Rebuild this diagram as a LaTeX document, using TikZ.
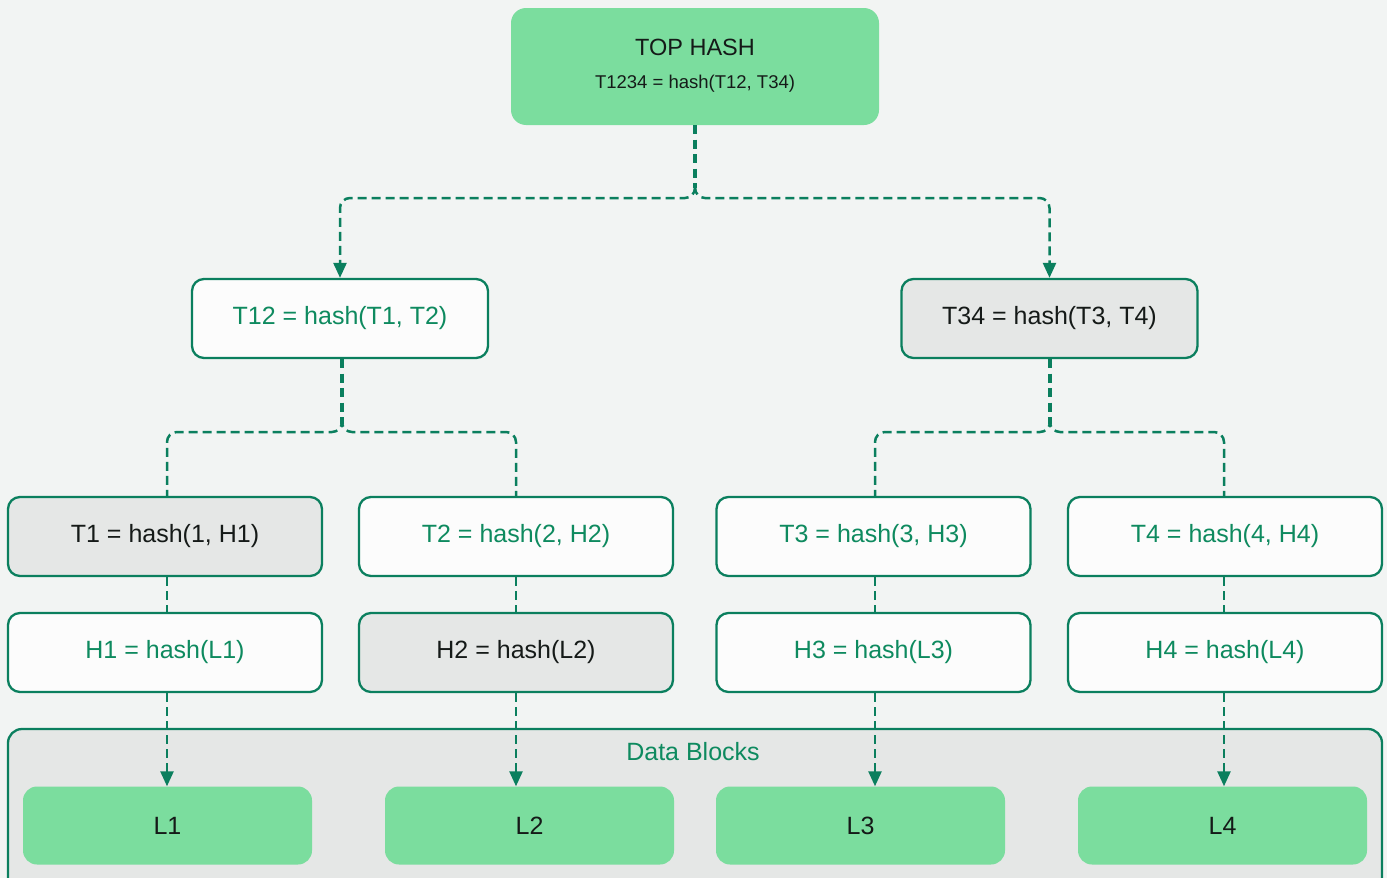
\documentclass[tikz,border=0pt]{standalone}
\usepackage{fontspec}
\setmainfont{Liberation Sans}
\usetikzlibrary{arrows.meta}
\definecolor{bg}{HTML}{F2F4F3}
\definecolor{edge}{HTML}{0B7F5E}
\definecolor{ink}{HTML}{0E8A5F}
\definecolor{leafgreen}{HTML}{7BDD9E}
\definecolor{paper}{HTML}{FCFCFC}
\definecolor{greybox}{HTML}{E5E7E6}
\definecolor{dark}{HTML}{151A18}
\newcommand{\labelfont}{\fontsize{25}{30}\selectfont}
\begin{document}
\begin{tikzpicture}[x=1pt,y=-1pt,
  hashbox/.style={draw=edge, line width=2.3pt, rounded corners=12pt,
    minimum height=79pt, inner sep=0pt, font=\labelfont},
  midbox/.style={hashbox, minimum width=296pt},
  lowbox/.style={hashbox, minimum width=314pt},
  plain/.style={fill=paper, text=ink},
  shaded/.style={fill=greybox, text=dark},
  leaf/.style={fill=leafgreen, rounded corners=14pt, minimum width=289pt,
    minimum height=78pt, inner sep=0pt, text=dark, font=\labelfont},
  stem/.style={draw=edge, line width=4.2pt, dash pattern=on 9pt off 5.5pt},
  branch/.style={draw=edge, line width=2.5pt, dash pattern=on 9pt off 5pt,
    rounded corners=10pt},
  tip/.style={-{Triangle[width=13pt,length=15pt]}}
]
\useasboundingbox (0,0) rectangle (1387,878);
\fill[bg] (0,0) rectangle (1387,878);

% data block container (runs off the lower edge)
\begin{scope}
\clip (0,0) rectangle (1387,878);
\draw[edge, fill=greybox, line width=2.3pt, rounded corners=14pt]
  (8,729) rectangle (1382,900);
\end{scope}
\node[text=ink, font=\labelfont] (dblabel) at (693,752) {Data Blocks};

% root
\node[fill=leafgreen, rounded corners=15pt, minimum width=368pt,
  minimum height=117pt, inner sep=0pt] (top) at (695,66.5) {};
\node[text=dark, font=\fontsize{23.5}{28}\selectfont] (toptitle) at (695,47) {TOP HASH};
\node[text=dark, font=\fontsize{18.5}{22}\selectfont] (topformula) at (695,84) {T1234 = hash(T12, T34)};

% second level
\node[midbox, plain]  (t12) at (340,318.5)  {T12 = hash(T1, T2)};
\node[midbox, shaded] (t34) at (1049.5,318.5) {T34 = hash(T3, T4)};

% third level
\node[lowbox, shaded] (t1) at (165,536.5)   {T1 = hash(1, H1)};
\node[lowbox, plain]  (t2) at (516,536.5)   {T2 = hash(2, H2)};
\node[lowbox, plain]  (t3) at (873.5,536.5) {T3 = hash(3, H3)};
\node[lowbox, plain]  (t4) at (1225,536.5)  {T4 = hash(4, H4)};

% leaf hashes
\node[lowbox, plain]  (h1) at (165,652.5)   {H1 = hash(L1)};
\node[lowbox, shaded] (h2) at (516,652.5)   {H2 = hash(L2)};
\node[lowbox, plain]  (h3) at (873.5,652.5) {H3 = hash(L3)};
\node[lowbox, plain]  (h4) at (1225,652.5)  {H4 = hash(L4)};

% data blocks
\node[leaf] (l1) at (167.5,825.5)  {L1};
\node[leaf] (l2) at (529.5,825.5)  {L2};
\node[leaf] (l3) at (860.5,825.5)  {L3};
\node[leaf] (l4) at (1222.5,825.5) {L4};

% column guides for the vertical connectors
\coordinate (col1) at (167,0);
\coordinate (col2) at (516,0);
\coordinate (col3) at (875,0);
\coordinate (col4) at (1224,0);

% root fork
\coordinate (forkA) at (695,188);
\draw[stem] (top.south) -- (forkA);
\draw[branch, tip] ([yshift=-2pt]forkA) -- (695,198) -- (340,198) -- (t12.north);
\draw[branch, tip] ([yshift=-2pt]forkA) -- (695,198) -- (1049.5,198) -- (t34.north);

% T12 fork
\coordinate (forkB) at (342,424);
\draw[stem] (t12.south -| forkB) -- (forkB);
\draw[branch] ([yshift=-2pt]forkB) -- (342,432) -- (167,432) -- (t1.north -| col1);
\draw[branch] ([yshift=-2pt]forkB) -- (342,432) -- (516,432) -- (t2.north -| col2);

% T34 fork
\coordinate (forkC) at (1050,424);
\draw[stem] (t34.south -| forkC) -- (forkC);
\draw[branch] ([yshift=-2pt]forkC) -- (1050,432) -- (875,432) -- (t3.north -| col3);
\draw[branch] ([yshift=-2pt]forkC) -- (1050,432) -- (1224,432) -- (t4.north -| col4);

% between rows
\draw[branch] (t1.south -| col1) -- (h1.north -| col1);
\draw[branch] (t2.south -| col2) -- (h2.north -| col2);
\draw[branch] (t3.south -| col3) -- (h3.north -| col3);
\draw[branch] (t4.south -| col4) -- (h4.north -| col4);

% down to the data blocks
\draw[branch, tip] (h1.south -| col1) -- (l1.north -| col1);
\draw[branch, tip] (h2.south -| col2) -- (l2.north -| col2);
\draw[branch, tip] (h3.south -| col3) -- (l3.north -| col3);
\draw[branch, tip] (h4.south -| col4) -- (l4.north -| col4);
\end{tikzpicture}
\end{document}
